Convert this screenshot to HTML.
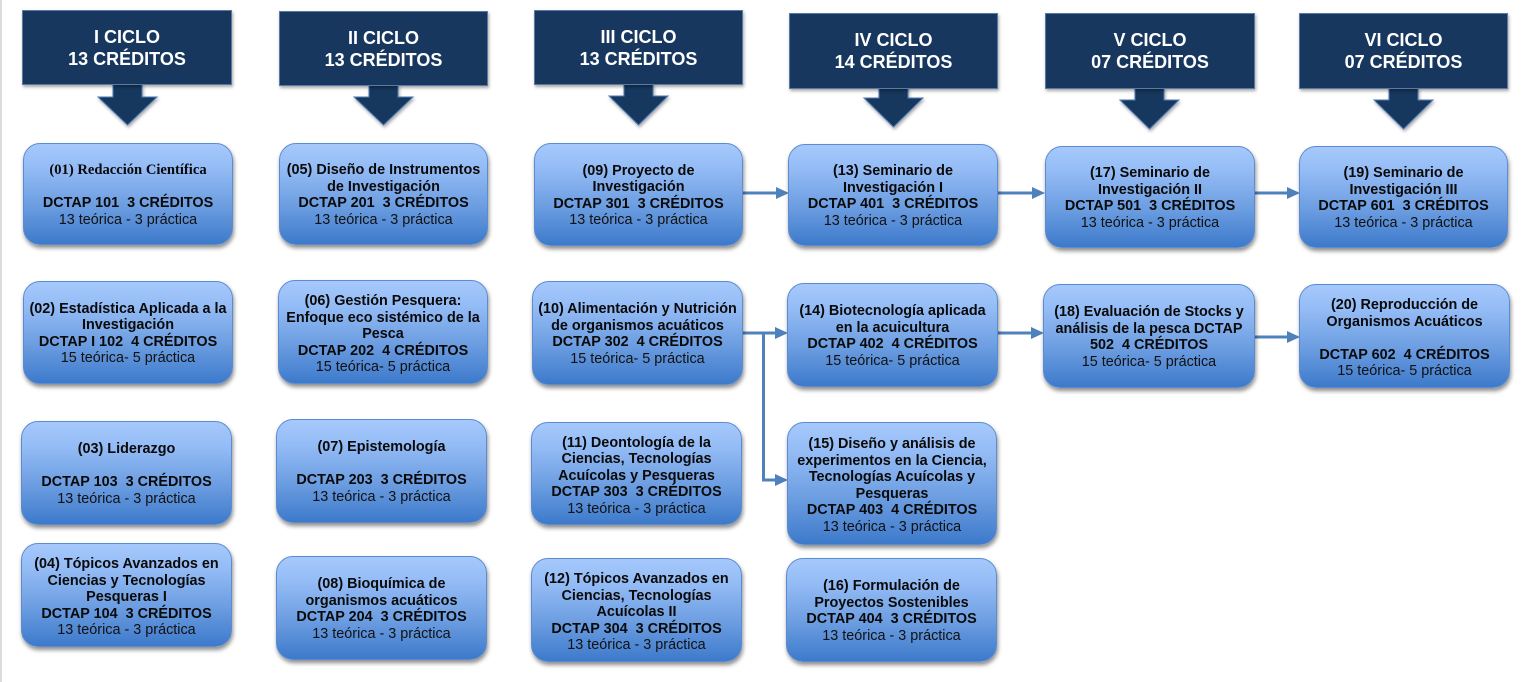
<!DOCTYPE html>
<html>
<head>
<meta charset="utf-8">
<style>
  html, body { margin:0; padding:0; }
  body { width:1523px; height:682px; position:relative; background:#ffffff; overflow:hidden;
         font-family:"Liberation Sans", Arial, sans-serif; }
  .edge { position:absolute; left:0; top:0; width:2px; height:682px; background:#dcdcdc; }
  .hdr { position:absolute; background:#17375e; border:1px solid #5a7aa6; box-sizing:border-box;
         color:#fff; font-weight:bold; font-size:18px; line-height:22px; text-align:center;
         display:flex; flex-direction:column; justify-content:center;
         box-shadow: 1px 2px 3px rgba(0,0,0,0.35); }
  .box { position:absolute; box-sizing:border-box; border:1px solid #5b8bd0; border-radius:17px;
         background:linear-gradient(to bottom, #a6c9fc 0%, #93bbf5 25%, #6e9fe2 60%, #3d7acb 100%);
         box-shadow: 1px 3px 4px rgba(0,0,0,0.45);
         display:flex; flex-direction:column; justify-content:center; align-items:center;
         text-align:center; color:#0a0a0a; font-size:14.4px; line-height:16.5px; padding-top:2px; overflow:hidden; }
  .box .b { font-weight:bold; white-space:nowrap; }
  .box .n { font-weight:normal; white-space:nowrap; color:#111; }
  .box .s { font-family:"Liberation Serif", serif; font-weight:bold; font-size:14.6px; }
  .box .e { height:16.5px; }
  svg { position:absolute; left:0; top:0; }
</style>
</head>
<body>
<div class="edge"></div>

<svg width="1523" height="682" viewBox="0 0 1523 682">
  <defs>
    <filter id="sh" x="-20%" y="-20%" width="140%" height="160%">
      <feDropShadow dx="1" dy="2" stdDeviation="1.5" flood-color="#000" flood-opacity="0.35"/>
    </filter>
  </defs>
  <!-- header arrows -->
  <g fill="#17375e" stroke="#4f7bb8" stroke-width="1" filter="url(#sh)">
    <polygon points="113,84 142,84 142,97 157,97 127.5,125 98,97 113,97"/>
    <polygon points="369,85 398,85 398,97 413,97 383.5,125 354,97 369,97"/>
    <polygon points="624,84 653,84 653,96 668,96 638.5,125 609,96 624,96"/>
    <polygon points="879,87 908,87 908,98 923,98 893.5,127 864,98 879,98"/>
    <polygon points="1135,88 1164,88 1164,100 1179,100 1149.5,129 1120,100 1135,100"/>
    <polygon points="1389,88 1418,88 1418,100 1433,100 1403.5,129 1374,100 1389,100"/>
  </g>
  <!-- connectors -->
  <g stroke="#4f81bd" stroke-width="3" fill="none">
    <line x1="743" y1="193" x2="778" y2="193"/>
    <line x1="998" y1="193" x2="1034" y2="193"/>
    <line x1="1254" y1="193" x2="1289" y2="193"/>
    <line x1="743" y1="333" x2="777" y2="333"/>
    <polyline points="763.5,333 763.5,480 777,480"/>
    <line x1="998" y1="333" x2="1033" y2="333"/>
    <line x1="1254" y1="337" x2="1289" y2="337"/>
  </g>
  <g fill="#4f81bd">
    <polygon points="776,187 789,193 776,199"/>
    <polygon points="1032,187 1045,193 1032,199"/>
    <polygon points="1287,187 1300,193 1287,199"/>
    <polygon points="775,327 788,333 775,339"/>
    <polygon points="775,474 788,480 775,486"/>
    <polygon points="1031,327 1044,333 1031,339"/>
    <polygon points="1287,331 1300,337 1287,343"/>
  </g>
</svg>

<!-- headers -->
<div class="hdr" style="left:22px;top:10px;width:210px;height:75px;"><div>I CICLO</div><div>13 CRÉDITOS</div></div>
<div class="hdr" style="left:279px;top:11px;width:209px;height:75px;"><div>II CICLO</div><div>13 CRÉDITOS</div></div>
<div class="hdr" style="left:534px;top:10px;width:209px;height:75px;"><div>III CICLO</div><div>13 CRÉDITOS</div></div>
<div class="hdr" style="left:789px;top:13px;width:209px;height:76px;"><div>IV CICLO</div><div>14 CRÉDITOS</div></div>
<div class="hdr" style="left:1045px;top:13px;width:210px;height:76px;"><div>V CICLO</div><div>07 CRÉDITOS</div></div>
<div class="hdr" style="left:1299px;top:13px;width:209px;height:76px;"><div>VI CICLO</div><div>07 CRÉDITOS</div></div>

<!-- Column 1 -->
<div class="box" style="left:23px;top:143px;width:210px;height:102px;">
  <div class="b s">(01) Redacción Científica</div><div class="e"></div>
  <div class="b">DCTAP 101&nbsp; 3 CRÉDITOS</div><div class="n">13 teórica - 3 práctica</div>
</div>
<div class="box" style="left:23px;top:281px;width:210px;height:103px;">
  <div class="b">(02) Estadística Aplicada a la</div><div class="b">Investigación</div>
  <div class="b">DCTAP I 102&nbsp; 4 CRÉDITOS</div><div class="n">15 teórica- 5 práctica</div>
</div>
<div class="box" style="left:21px;top:421px;width:211px;height:104px;">
  <div class="b">(03) Liderazgo</div><div class="e"></div>
  <div class="b">DCTAP 103&nbsp; 3 CRÉDITOS</div><div class="n">13 teórica - 3 práctica</div>
</div>
<div class="box" style="left:21px;top:543px;width:211px;height:104px;padding-top:5px;">
  <div class="b">(04) Tópicos Avanzados en</div><div class="b">Ciencias y Tecnologías</div><div class="b">Pesqueras I</div>
  <div class="b">DCTAP 104&nbsp; 3 CRÉDITOS</div><div class="n">13 teórica - 3 práctica</div>
</div>

<!-- Column 2 -->
<div class="box" style="left:279px;top:143px;width:209px;height:102px;">
  <div class="b">(05) Diseño de Instrumentos</div><div class="b">de Investigación</div>
  <div class="b">DCTAP 201&nbsp; 3 CRÉDITOS</div><div class="n">13 teórica - 3 práctica</div>
</div>
<div class="box" style="left:278px;top:280px;width:210px;height:104px;padding-top:5px;">
  <div class="b">(06) Gestión Pesquera:</div><div class="b">Enfoque eco sistémico de la</div><div class="b">Pesca</div>
  <div class="b">DCTAP 202&nbsp; 4 CRÉDITOS</div><div class="n">15 teórica- 5 práctica</div>
</div>
<div class="box" style="left:276px;top:419px;width:211px;height:104px;">
  <div class="b">(07) Epistemología</div><div class="e"></div>
  <div class="b">DCTAP 203&nbsp; 3 CRÉDITOS</div><div class="n">13 teórica - 3 práctica</div>
</div>
<div class="box" style="left:276px;top:556px;width:211px;height:104px;">
  <div class="b">(08) Bioquímica de</div><div class="b">organismos acuáticos</div>
  <div class="b">DCTAP 204&nbsp; 3 CRÉDITOS</div><div class="n">13 teórica - 3 práctica</div>
</div>

<!-- Column 3 -->
<div class="box" style="left:534px;top:143px;width:209px;height:103px;">
  <div class="b">(09) Proyecto de</div><div class="b">Investigación</div>
  <div class="b">DCTAP 301&nbsp; 3 CRÉDITOS</div><div class="n">13 teórica - 3 práctica</div>
</div>
<div class="box" style="left:532px;top:281px;width:211px;height:104px;">
  <div class="b">(10) Alimentación y Nutrición</div><div class="b">de organismos acuáticos</div>
  <div class="b">DCTAP 302&nbsp; 4 CRÉDITOS</div><div class="n">15 teórica- 5 práctica</div>
</div>
<div class="box" style="left:531px;top:422px;width:211px;height:103px;padding-top:5px;">
  <div class="b">(11) Deontología de la</div><div class="b">Ciencias, Tecnologías</div><div class="b">Acuícolas y Pesqueras</div>
  <div class="b">DCTAP 303&nbsp; 3 CRÉDITOS</div><div class="n">13 teórica - 3 práctica</div>
</div>
<div class="box" style="left:531px;top:558px;width:211px;height:104px;padding-top:5px;">
  <div class="b">(12) Tópicos Avanzados en</div><div class="b">Ciencias, Tecnologías</div><div class="b">Acuícolas II</div>
  <div class="b">DCTAP 304&nbsp; 3 CRÉDITOS</div><div class="n">13 teórica - 3 práctica</div>
</div>

<!-- Column 4 -->
<div class="box" style="left:788px;top:144px;width:210px;height:102px;">
  <div class="b">(13) Seminario de</div><div class="b">Investigación I</div>
  <div class="b">DCTAP 401&nbsp; 3 CRÉDITOS</div><div class="n">13 teórica - 3 práctica</div>
</div>
<div class="box" style="left:787px;top:283px;width:211px;height:104px;">
  <div class="b">(14) Biotecnología aplicada</div><div class="b">en la acuicultura</div>
  <div class="b">DCTAP 402&nbsp; 4 CRÉDITOS</div><div class="n">15 teórica- 5 práctica</div>
</div>
<div class="box" style="left:787px;top:422px;width:210px;height:123px;padding-top:4px;">
  <div class="b">(15) Diseño y análisis de</div><div class="b">experimentos en la Ciencia,</div><div class="b">Tecnologías Acuícolas y</div><div class="b">Pesqueras</div>
  <div class="b">DCTAP 403&nbsp; 4 CRÉDITOS</div><div class="n">13 teórica - 3 práctica</div>
</div>
<div class="box" style="left:786px;top:558px;width:211px;height:104px;">
  <div class="b">(16) Formulación de</div><div class="b">Proyectos Sostenibles</div>
  <div class="b">DCTAP 404&nbsp; 3 CRÉDITOS</div><div class="n">13 teórica - 3 práctica</div>
</div>

<!-- Column 5 -->
<div class="box" style="left:1045px;top:146px;width:210px;height:102px;">
  <div class="b">(17) Seminario de</div><div class="b">Investigación II</div>
  <div class="b">DCTAP 501&nbsp; 3 CRÉDITOS</div><div class="n">13 teórica - 3 práctica</div>
</div>
<div class="box" style="left:1043px;top:284px;width:212px;height:104px;">
  <div class="b">(18) Evaluación de Stocks y</div><div class="b">análisis de la pesca DCTAP</div>
  <div class="b">502&nbsp; 4 CRÉDITOS</div><div class="n">15 teórica- 5 práctica</div>
</div>

<!-- Column 6 -->
<div class="box" style="left:1299px;top:146px;width:209px;height:102px;">
  <div class="b">(19) Seminario de</div><div class="b">Investigación III</div>
  <div class="b">DCTAP 601&nbsp; 3 CRÉDITOS</div><div class="n">13 teórica - 3 práctica</div>
</div>
<div class="box" style="left:1299px;top:284px;width:211px;height:104px;padding-top:5px;">
  <div class="b">(20) Reproducción de</div><div class="b">Organismos Acuáticos</div><div class="e"></div>
  <div class="b">DCTAP 602&nbsp; 4 CRÉDITOS</div><div class="n">15 teórica- 5 práctica</div>
</div>

</body>
</html>
